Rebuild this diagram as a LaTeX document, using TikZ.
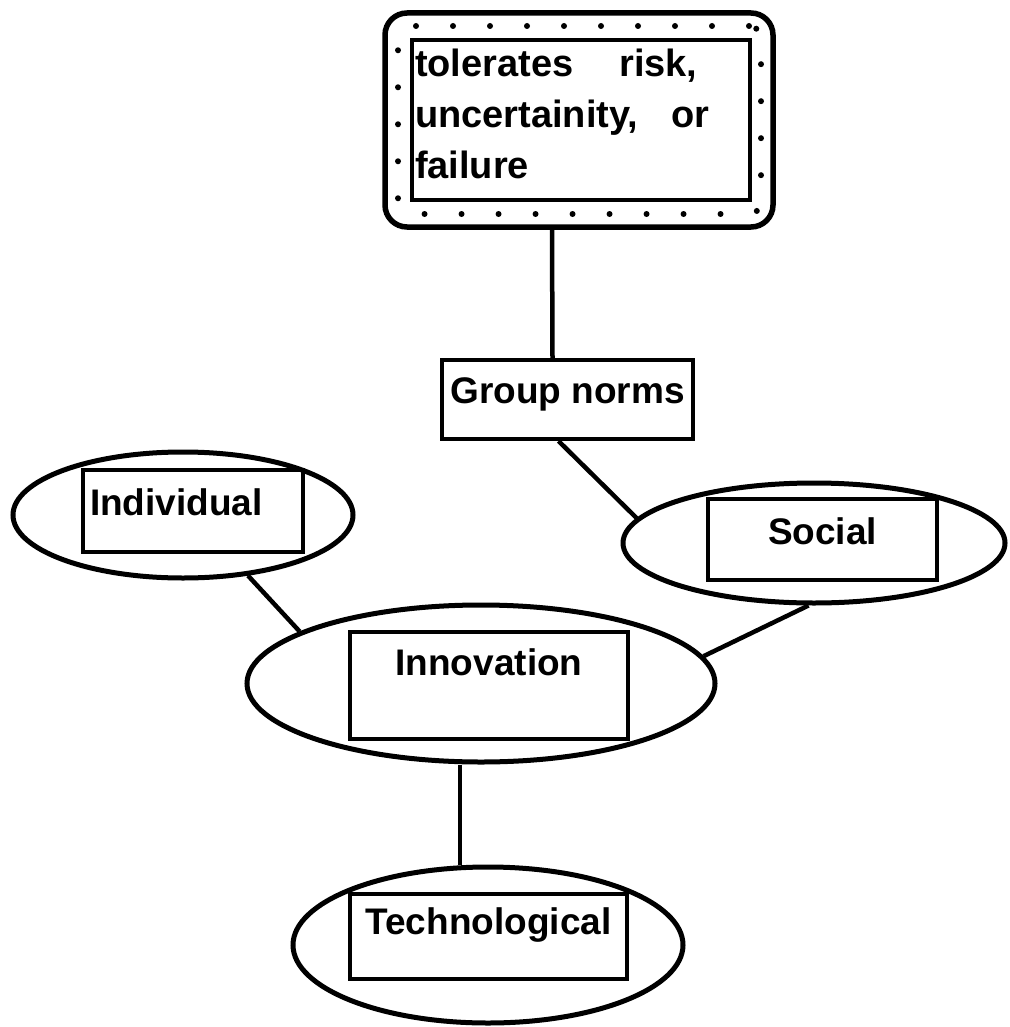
\documentclass[tikz,border=0pt]{standalone}
\usepackage{fontspec}
\setmainfont{Liberation Sans}
\usetikzlibrary{shapes.geometric}

\begin{document}
\begin{tikzpicture}[x=1pt,y=-1pt,line width=4.5pt,
	oval/.style ={ellipse, draw, line width=5pt, inner sep=0pt},
	box/.style ={rectangle, draw, line width=4pt, inner sep=0pt, anchor=north, align=center,
		font=\fontsize{37}{44}\selectfont\bfseries},
	dots/.style ={draw, line width=6pt, line cap=round, dash pattern=on 0pt off 37pt, rounded corners=12pt}]
	\useasboundingbox (0,0) rectangle (1009,1027);
	% framed statement on top
	\node[draw, rounded corners=22pt, line width=5.5pt, minimum width=388pt, minimum height=214pt] (risk) at (579,120) {};
	\node[dots, minimum width=363pt, minimum height=188pt] (riskdots) at (579.5,120) {};
	\node[draw, fill=white, line width=4.5pt, minimum width=338pt, minimum height=160pt] (riskin) at (581,120) {};
	\node[anchor=north west, align=left, inner sep=0pt, font=\fontsize{38}{51}\selectfont\bfseries]
		(risktxt) at ([xshift=3pt,yshift=-9pt]riskin.north west)
		{tolerates\hspace{46pt}risk,\\uncertainity,\hspace{33pt}or\\failure};
	% ovals
	\node[oval, minimum width=340pt, minimum height=126pt] (ind) at (183,515) {};
	\node[oval, minimum width=382pt, minimum height=120pt] (soc) at (814,543) {};
	\node[oval, minimum width=468pt, minimum height=157pt] (inn) at (481,683.5) {};
	\node[oval, minimum width=390pt, minimum height=156pt] (tech) at (488,945) {};
	% boxes
	\node[box, minimum width=251pt, text height=43pt, text depth=36pt] (grpbox) at (567.5,358) {Group norms};
	\node[box, minimum width=220pt, text width=206pt, align=left, text height=45pt, text depth=37pt] (indbox) at (193,468) {Individual};
	\node[box, minimum width=229pt, text height=45pt, text depth=36pt] (socbox) at (822.5,497) {Social};
	\node[box, minimum width=278pt, text height=43pt, text depth=64pt] (innbox) at (489,630) {Innovation};
	\node[box, minimum width=277pt, text height=40pt, text depth=45pt] (techbox) at (488.5,892) {Technological};
	% links
	\draw ([xshift=-27pt]risk.south) -- ([xshift=-15pt]grpbox.north);
	\draw ([xshift=-9pt]grpbox.south) -- (soc.172);
	\draw (ind.-43) -- (inn.164);
	\draw (soc.-95) -- (inn.7);
	\draw ([xshift=-21pt]inn.south) -- ([xshift=-28pt]tech.north);
\end{tikzpicture}
\end{document}
